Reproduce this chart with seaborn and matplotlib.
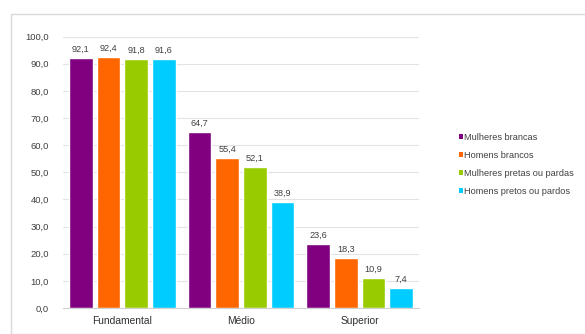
import matplotlib
matplotlib.use("Agg")
import matplotlib.pyplot as plt
import seaborn as sns
import pandas as pd
from matplotlib.patches import Rectangle, Patch

# Education levels and population groups
categories = ["Fundamental", "Médio", "Superior"]
groups = ["Mulheres brancas", "Homens brancos",
          "Mulheres pretas ou pardas", "Homens pretos ou pardos"]

# Rates (%) per group, ordered as the categories
mulheres_brancas = [92.1, 64.7, 23.6]
homens_brancos = [92.4, 55.4, 18.3]
mulheres_pretas_pardas = [91.8, 52.1, 10.9]
homens_pretos_pardos = [91.6, 38.9, 7.4]

y_ticks = [0, 10, 20, 30, 40, 50, 60, 70, 80, 90, 100]

colors = ["#800080", "#FF6600", "#99CC00", "#00CCFF"]

series = [mulheres_brancas, homens_brancos, mulheres_pretas_pardas, homens_pretos_pardos]
rows = []
for g, vals in zip(groups, series):
    for c, v in zip(categories, vals):
        rows.append({"categoria": c, "grupo": g, "valor": v})
df = pd.DataFrame(rows)

sns.set_theme(style="white")
plt.rcParams["font.family"] = ["Liberation Sans", "DejaVu Sans"]

fig = plt.figure(figsize=(5.85, 3.34), dpi=100)
fig.patch.set_facecolor("white")

# light outer frame
fig.add_artist(Rectangle((11 / 585, 0.0), 1.0, 1 - 14 / 334,
                         transform=fig.transFigure, fill=False,
                         edgecolor="#d9d9d9", linewidth=1.0))

ax = fig.add_axes([63 / 585, 26 / 334, (419 - 63) / 585, (308 - 36.6) / 334])

sns.barplot(data=df, x="categoria", y="valor", hue="grupo",
            order=categories, hue_order=groups, palette=colors,
            width=0.93, gap=0.14, saturation=1, legend=False, ax=ax)

ax.set_xlim(-0.5, 2.5)
ax.set_ylim(0, 100)
ax.set_yticks(y_ticks)
ax.set_yticklabels([f"{t:.1f}".replace(".", ",") for t in y_ticks],
                   fontsize=6.8, color="#404040")
ax.tick_params(axis="x", labelsize=7.4, colors="#303030", length=0, pad=6)
ax.tick_params(axis="y", length=0, pad=10)
ax.set_xlabel("")
ax.set_ylabel("")

ax.yaxis.grid(True, color="#e3e3e3", linewidth=0.8)
ax.set_axisbelow(True)
for s in ["top", "right", "left"]:
    ax.spines[s].set_visible(False)
ax.spines["bottom"].set_color("#d0d0d0")
ax.spines["bottom"].set_linewidth(0.8)

for cont, vals in zip(ax.containers, series):
    ax.bar_label(cont, labels=[f"{v:.1f}".replace(".", ",") for v in vals],
                 padding=3, fontsize=6.6, color="#404040")

handles = [Patch(facecolor=c, edgecolor="none") for c in colors]
fig.legend(handles, groups, loc="upper left",
           bbox_to_anchor=(454 / 585, 1 - 128 / 334),
           frameon=False, fontsize=6.6, handlelength=0.45, handleheight=0.45,
           handletextpad=0.1, labelspacing=1.0, borderpad=0,
           labelcolor="#404040")

fig.savefig("out.png", dpi=100, facecolor="white")
